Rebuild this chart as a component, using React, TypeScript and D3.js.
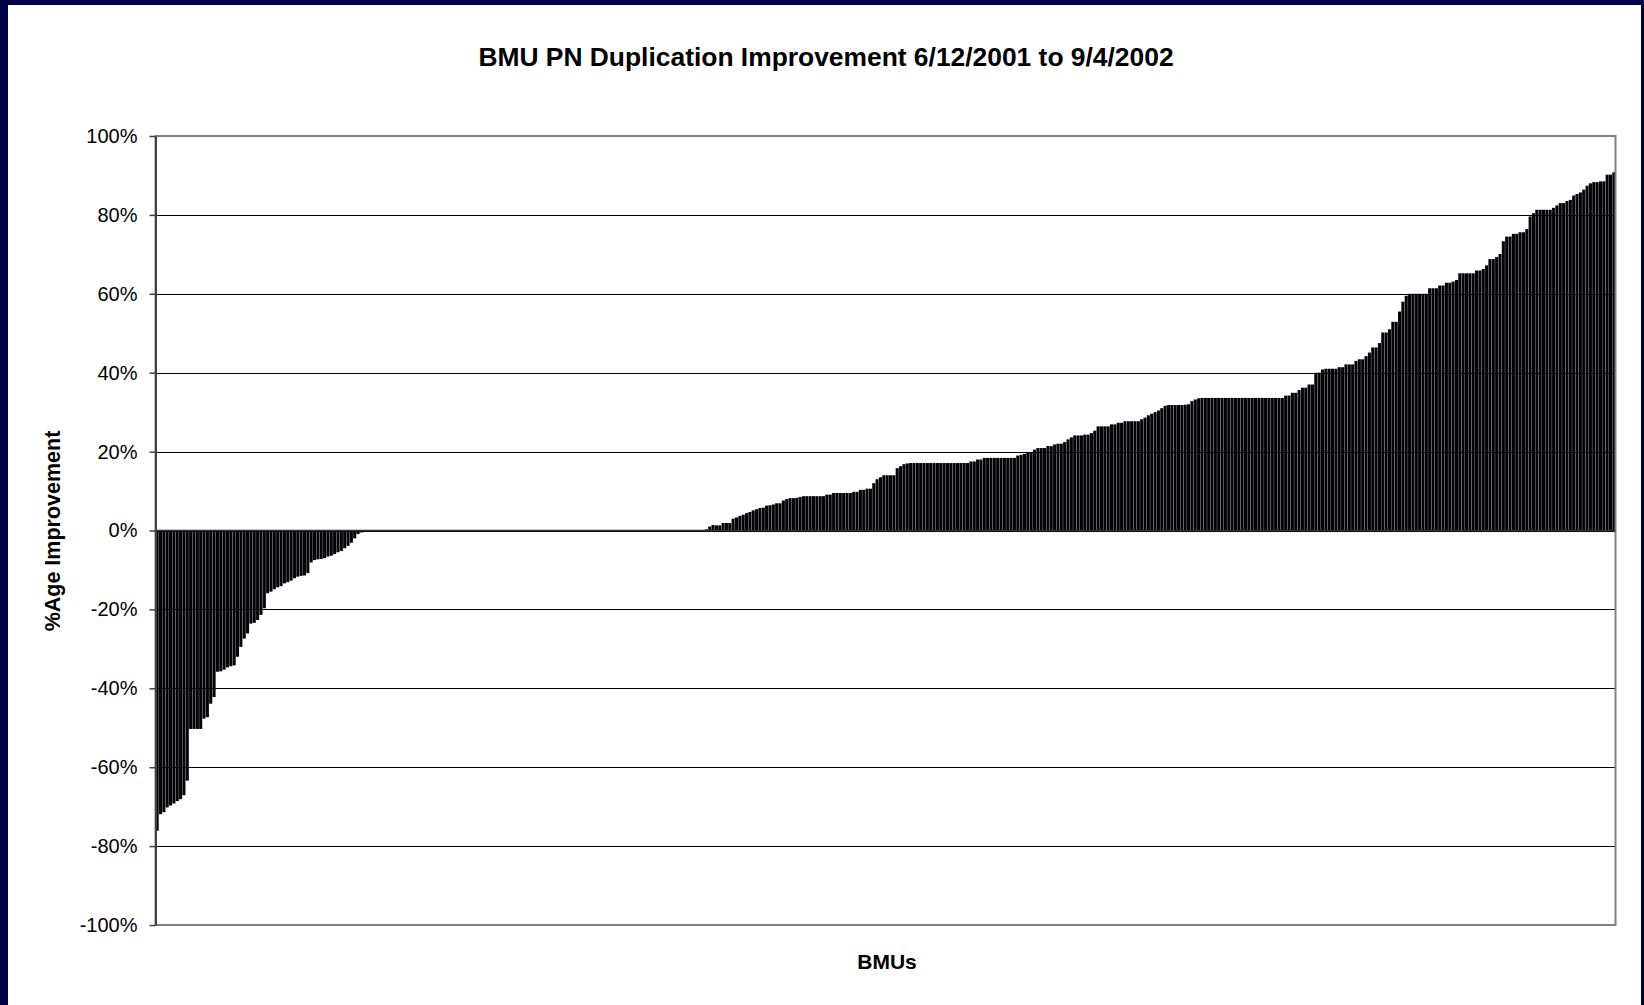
import * as d3 from 'd3';
import * as React from 'react';

const SVG_WIDTH = 1644;
const SVG_HEIGHT = 1005;
const PLOT = { left: 155.5, right: 1615.5, top: 136, bottom: 925 };
const FONT = '"Liberation Sans", Arial, sans-serif';

// BMUs that got worse (sorted), % improvement
const declines = [
  -76.1, -71.9, -71.4, -70.2, -69.7, -69.2, -68.6, -68.1, -67.1, -63.4,
  -50.3, -50.3, -50.3, -50.3, -47.7, -47.3, -43.9, -42.2, -35.8, -35.7,
  -35.3, -34.7, -34.4, -34.2, -32.0, -29.5, -27.4, -26.1, -23.6, -23.4,
  -22.7, -21.4, -19.7, -15.9, -15.5, -14.9, -14.4, -14.1, -13.4, -13.1,
  -12.7, -12.1, -11.7, -11.5, -11.4, -10.8, -8.1, -7.5, -7.3, -7.2,
  -7.0, -6.6, -6.4, -6.0, -5.5, -5.2, -4.5, -3.9, -3.1, -2.0,
  -0.9, -0.5,
];

// BMUs with no change
const unchanged = [
  0, 0, 0, 0, 0, 0, 0, 0, 0, 0, 0, 0, 0, 0, 0, 0, 0, 0, 0, 0,
  0, 0, 0, 0, 0, 0, 0, 0, 0, 0, 0, 0, 0, 0, 0, 0, 0, 0, 0, 0,
  0, 0, 0, 0, 0, 0, 0, 0, 0, 0, 0, 0, 0, 0, 0, 0, 0, 0, 0, 0,
  0, 0, 0, 0, 0, 0, 0, 0, 0, 0, 0, 0, 0, 0, 0, 0, 0, 0, 0, 0,
  0, 0, 0, 0, 0, 0, 0, 0, 0, 0, 0, 0, 0, 0, 0, 0, 0, 0, 0, 0,
  0, 0,
];

// BMUs that improved (sorted)
const gains = [
  0.3, 1.0, 1.4, 1.3, 1.3, 1.9, 1.9, 1.9, 3.0, 3.3,
  3.7, 4.0, 4.4, 4.7, 5.1, 5.4, 5.7, 5.8, 6.3, 6.4,
  6.6, 6.9, 6.9, 7.6, 8.0, 8.2, 8.2, 8.3, 8.5, 8.7,
  8.7, 8.7, 8.7, 8.7, 8.7, 8.7, 9.1, 9.1, 9.5, 9.5,
  9.5, 9.5, 9.5, 9.5, 9.8, 9.8, 10.3, 10.3, 10.6, 10.6,
  12.0, 13.0, 13.5, 14.0, 14.0, 14.0, 14.0, 15.8, 16.3, 16.8,
  17.0, 17.1, 17.1, 17.1, 17.1, 17.1, 17.1, 17.1, 17.1, 17.1,
  17.1, 17.1, 17.1, 17.1, 17.1, 17.1, 17.1, 17.1, 17.1, 17.5,
  17.5, 18.0, 18.0, 18.4, 18.4, 18.4, 18.4, 18.4, 18.4, 18.4,
  18.4, 18.4, 18.4, 19.0, 19.2, 19.4, 19.9, 19.9, 20.5, 20.9,
  20.9, 20.9, 21.4, 21.4, 21.8, 22.0, 22.0, 22.4, 23.1, 23.6,
  24.1, 24.1, 24.1, 24.3, 24.3, 24.7, 25.3, 26.4, 26.4, 26.4,
  26.4, 26.9, 26.9, 27.3, 27.3, 27.7, 27.7, 27.7, 27.7, 27.7,
  28.2, 28.6, 29.2, 29.6, 30.0, 30.4, 31.0, 31.6, 31.8, 31.8,
  31.8, 31.8, 31.8, 31.9, 32.0, 32.8, 33.2, 33.5, 33.6, 33.6,
  33.6, 33.6, 33.6, 33.6, 33.6, 33.6, 33.6, 33.6, 33.6, 33.6,
  33.6, 33.6, 33.6, 33.6, 33.6, 33.6, 33.6, 33.6, 33.6, 33.6,
  33.6, 33.6, 33.6, 34.2, 34.2, 34.9, 34.9, 35.6, 36.2, 36.2,
  37.0, 37.0, 40.0, 40.0, 40.8, 41.0, 41.0, 41.0, 41.0, 41.4,
  41.4, 42.1, 42.1, 42.1, 43.0, 43.4, 43.4, 44.2, 45.1, 46.4,
  46.4, 47.5, 50.2, 50.2, 51.0, 52.9, 52.9, 55.5, 58.0, 59.5,
  60.0, 60.0, 60.0, 60.0, 60.0, 60.0, 61.4, 61.4, 61.4, 62.1,
  62.1, 62.8, 62.8, 63.1, 63.5, 65.2, 65.2, 65.2, 65.2, 65.2,
  65.9, 65.9, 66.3, 67.2, 68.8, 68.8, 69.3, 70.1, 73.3, 74.5,
  74.5, 75.2, 75.2, 75.6, 75.6, 76.4, 79.6, 80.4, 81.3, 81.3,
  81.3, 81.3, 81.3, 81.8, 82.4, 83.0, 83.0, 83.5, 83.8, 84.9,
  85.3, 85.7, 86.4, 87.4, 88.0, 88.3, 88.3, 88.5, 88.5, 90.2,
  90.2, 90.8,
];

const yTicks = [-100, -80, -60, -40, -20, 0, 20, 40, 60, 80, 100];

const values = [...declines, ...unchanged, ...gains];

const App = () => {
  const plotRef = React.useRef<SVGGElement>(null);

  React.useEffect(() => {
    const g = d3.select(plotRef.current);
    g.selectAll('*').remove();

    const x = d3
      .scaleBand<number>()
      .domain(d3.range(values.length))
      .range([PLOT.left, PLOT.right])
      .paddingInner(0.08)
      .paddingOuter(0.03);
    const y = d3.scaleLinear().domain([-100, 100]).range([PLOT.bottom, PLOT.top]);

    // gridlines
    g.append('g')
      .selectAll('line')
      .data(yTicks.filter(t => Math.abs(t) < 100))
      .enter()
      .append('line')
      .attr('x1', PLOT.left)
      .attr('x2', PLOT.right)
      .attr('y1', d => Math.round(y(d)) + 0.5)
      .attr('y2', d => Math.round(y(d)) + 0.5)
      .attr('stroke', '#000')
      .attr('stroke-width', 1);

    // bars
    g.append('g')
      .selectAll('rect')
      .data(values)
      .enter()
      .append('rect')
      .attr('x', (d, i) => x(i) as number)
      .attr('width', x.bandwidth())
      .attr('y', d => y(Math.max(0, d)))
      .attr('height', d => Math.abs(y(d) - y(0)))
      .attr('fill', '#030308');

    // plot frame
    g.append('rect')
      .attr('x', PLOT.left)
      .attr('y', PLOT.top)
      .attr('width', PLOT.right - PLOT.left)
      .attr('height', PLOT.bottom - PLOT.top)
      .attr('fill', 'none')
      .attr('stroke', '#808080')
      .attr('stroke-width', 2);

    // zero line (category axis)
    g.append('line')
      .attr('x1', PLOT.left)
      .attr('x2', PLOT.right)
      .attr('y1', y(0))
      .attr('y2', y(0))
      .attr('stroke', '#333')
      .attr('stroke-width', 1.5);

    // value axis
    const axis = g
      .append('g')
      .attr('transform', `translate(${PLOT.left},0)`)
      .call(
        d3
          .axisLeft(y)
          .tickValues(yTicks)
          .tickSize(6)
          .tickSizeOuter(0)
          .tickPadding(12)
          .tickFormat(d => `${d}%`)
      );
    axis.select('.domain').attr('stroke', '#404040').attr('stroke-width', 2);
    axis.selectAll('.tick line').attr('stroke', '#404040').attr('stroke-width', 1.5);
    axis
      .selectAll('.tick text')
      .attr('fill', '#000')
      .style('font-family', FONT)
      .style('font-size', '20px');
  }, []);

  return (
    <svg
      width={SVG_WIDTH}
      height={SVG_HEIGHT}
      viewBox={`0 0 ${SVG_WIDTH} ${SVG_HEIGHT}`}
      style={{ position: 'absolute', left: 0, top: 0, display: 'block' }}
    >
      <rect x={0} y={0} width={SVG_WIDTH} height={SVG_HEIGHT} fill="#000046" />
      <rect x={8} y={5} width={1633} height={SVG_HEIGHT - 5} fill="#fff" />
      <text
        x={826}
        y={66}
        textAnchor="middle"
        fontFamily={FONT}
        fontWeight="bold"
        fontSize={26.4}
      >
        BMU PN Duplication Improvement 6/12/2001 to 9/4/2002
      </text>
      <text
        transform="translate(60,531) rotate(-90)"
        textAnchor="middle"
        fontFamily={FONT}
        fontWeight="bold"
        fontSize={21.5}
      >
        %Age Improvement
      </text>
      <text
        x={887}
        y={969}
        textAnchor="middle"
        fontFamily={FONT}
        fontWeight="bold"
        fontSize={21}
      >
        BMUs
      </text>
      <g ref={plotRef} />
    </svg>
  );
};

export default App;
